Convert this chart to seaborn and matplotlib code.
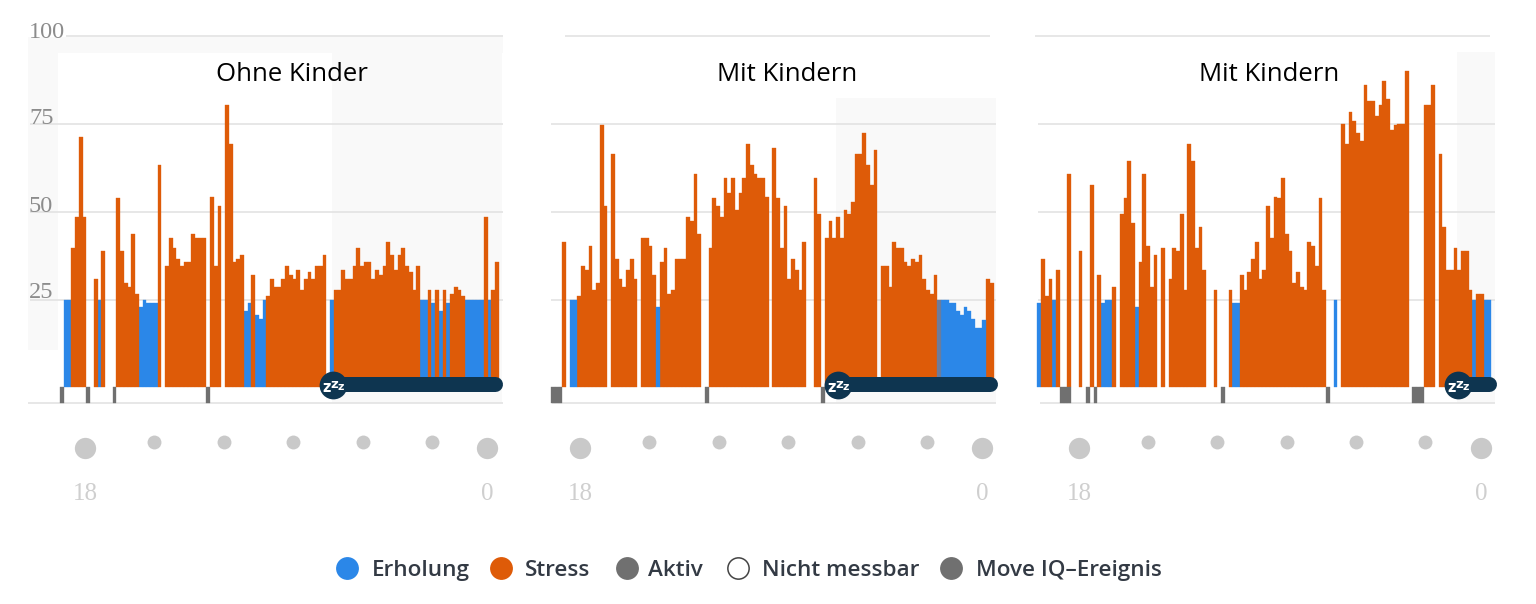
import matplotlib
matplotlib.use("Agg")
import matplotlib.pyplot as plt
from matplotlib.patches import Rectangle
import pandas as pd
import seaborn as sns

# ---------- data ----------
titles = ["Ohne Kinder", "Mit Kindern", "Mit Kindern"]
y_ticks = [100, 75, 50, 25]
legend_labels = ["Erholung", "Stress", "Aktiv", "Nicht messbar", "Move IQ\u2013Ereignis"]

values_1 = [25, 25, 39.8, 48.4, 71.3, 48.4, 0, 0, 30.8, 25, 38.8, 0, 0, 0, 53.8, 38.8, 29.7, 28.7, 43.6, 26.6,
            23, 25, 24, 24, 24, 63.3, 0, 34.5, 42.5, 39.8, 36.6, 34.5, 35.6, 35.6, 43.6, 42.5, 42.5, 42.5, 0, 54.3,
            34.5, 51.6, 0, 80.4, 69.3, 35.6, 36.6, 37.8, 21.8, 23.9, 31.9, 20.7, 19.6, 25, 26, 30.8, 28.7, 28.7, 30.8, 34.5,
            31.9, 30.8, 33.5, 27.7, 30.8, 32.9, 30.8, 34.5, 34.5, 37.8, 0, 25, 27.7, 27.7, 33.5, 30.8, 30.8, 34.5, 39.8, 34.5,
            35.6, 35.6, 30.8, 33.5, 31.9, 34.5, 41.5, 37.8, 33.5, 37.8, 39.8, 34.5, 32.9, 27.7, 34.5, 25, 25, 27.7, 23.9, 27.7,
            21.8, 27.7, 23.9, 26.6, 28.7, 27.7, 26, 25, 25, 25, 25, 25, 48.4, 25, 27.7, 35.6]
kinds_1 = ("RRSSSS--SRS---SSSSSS" "RRRRRS-SSSSSSSSSSS-S" "SS-SSSSSRRSRRRSSSSSS"
           "SSSSSSSSSS-RSSSSSSSS" "SSSSSSSSSSSSSSSRRSRS" "RSRSSSSRRRRRSRSS")
active_1 = [-1, 6, 13, 38]

values_2 = [41.5, 0, 25, 25, 26, 34.5, 33.5, 40.3, 27.7, 29.7, 74.6, 51.6, 0, 66.6, 36.6, 30.8, 28.7, 33.5, 36.6, 30.8,
            0, 42.5, 42.5, 40.3, 31.9, 23, 35.6, 39.8, 26.6, 27.7, 36.6, 36.6, 36.6, 48.4, 47.3, 60.7, 43.6, 0, 0, 39.8,
            53.8, 51.6, 48.4, 59.6, 55.4, 59.6, 50.5, 55.4, 59.6, 69.3, 63.4, 60.7, 59.6, 59.6, 54.3, 0, 68.1, 53.8, 39.8, 51.6,
            30.8, 36.6, 33.5, 27.7, 41.5, 0, 0, 59.6, 49.4, 0, 42.5, 47.3, 42.5, 48.4, 42.5, 50.5, 49.4, 52.7, 66.6, 66.6,
            72.4, 63.4, 57.5, 67.6, 0, 34.5, 34.5, 28.7, 41.5, 39.8, 39.8, 35.6, 34.5, 36.6, 35.6, 37.8, 30.8, 27.7, 26.6, 31.9,
            25, 25, 25, 23.9, 23.9, 21.8, 20.7, 23, 21.8, 19.6, 17, 17, 19.2, 30.8, 29.7]
kinds_2 = ("S-RRSSSSSSSS-SSSSSSS" "-SSSSRSSSSSSSSSSS--S" "SSSSSSSSSSSSSSS-SSSS"
           "SSSSS--SS-SSSSSSSSSS" "SSSS-SSSSSSSSSSSSSSS" "MRRRRRRRRRRRRSS")
active_2 = [-3, -2, -1, 38, 69]

values_3 = [23.9, 36.6, 26, 30.8, 25, 33.5, 0, 0, 60.7, 0, 0, 38.8, 0, 0, 57.5, 0, 31.9, 23.9, 25, 25,
            28.7, 0, 49.4, 53.8, 64.4, 46.8, 23, 35.6, 60.7, 40.3, 28.7, 37.8, 0, 39.8, 0, 30.8, 39.8, 38.8, 49.4, 27.7,
            69.3, 64.4, 39.8, 45.7, 33.5, 0, 0, 27.7, 0, 0, 0, 27.7, 23.9, 23.9, 31.9, 27.7, 32.9, 36.6, 41.5, 30.8,
            33.5, 51.6, 42.5, 54.3, 53.8, 59.6, 43.6, 38.8, 29.7, 32.9, 28.7, 27.7, 41.5, 40.3, 34.5, 53.8, 27.7, 0, 0, 25,
            0, 75, 69.3, 78.3, 76, 72.4, 70.2, 86.2, 81.5, 81.5, 77.2, 80.4, 87.4, 82, 73.4, 74.6, 75, 75, 90, 0,
            0, 0, 0, 80.4, 80.4, 86.2, 0, 66.6, 45.7, 33.5, 33.5, 39.8, 33.5, 38.8, 38.8, 27.7, 25, 26.6, 26.6, 25, 25]
kinds_3 = ("RSSSRS--S--S--S-SRRR" "S-SSSSRSSSSS-S-SSSSS" "SSSSS--S---SRRSSSSSS"
           "SSSSSSSSSSSSSSSSS--R" "-SSSSSSSSSSSSSSSSSS-" "---SSS-SSSSSSSSSRSSRR")
active_3 = [6, 7, 8, 13, 15, 49, 77, 100, 101, 102]

# ---------- style ----------
W, H = 1536, 604
BLUE, ORANGE, GREY, MIX = "#2b87e8", "#de5b08", "#707070", "#6b7c9c"
NAVY, DOT, GRID, SHADE = "#0e3550", "#c9c9c9", "#e3e3e3", "#f9f9f9"
palette = {"R": BLUE, "S": ORANGE, "A": GREY, "M": MIX}

sns.set_theme(style="white")
SERIF = "Liberation Serif"
fig = plt.figure(figsize=(W / 100, H / 100), dpi=100, facecolor="white")


def px_axes(zorder):
    ax = fig.add_axes([0, 0, 1, 1], zorder=zorder, facecolor="none")
    ax.set_axis_off()
    return ax


back = px_axes(0)
over = px_axes(5)

BASE_PX, UNIT_PX, STEP_PX = 387.3, 3.51, 3.75


def val_px(v):
    return BASE_PX - v * UNIT_PX


panels = [
    dict(vals=values_1, kinds=kinds_1, act=active_1, origin=63.83, l=20, r=510,
         grid=(30, 503), top=(66, 503), bottom=(28, 503), title_x=292,
         dots=[154, 224, 293, 363, 432], big=[85, 487], sleep=(333, 495),
         shade=[(28, 37, 503, 53), (28, 53, 58, 350), (332, 53, 502, 403)]),
    dict(vals=values_2, kinds=kinds_2, act=active_2, origin=562.33, l=540, r=1005,
         grid=(551, 996), top=(565, 990), bottom=(552, 996), title_x=787,
         dots=[649, 719, 788, 858, 927], big=[580, 982], sleep=(838, 990),
         shade=[(836, 98, 996, 403)]),
    dict(vals=values_3, kinds=kinds_3, act=active_3, origin=1037.33, l=1025, r=1505,
         grid=(1038, 1495), top=(1035, 1490), bottom=(1040, 1495), title_x=1269,
         dots=[1148, 1217, 1287, 1356, 1425], big=[1079, 1481], sleep=(1458, 1489),
         shade=[(1457, 52, 1495, 403)]),
]

for z, p in enumerate(panels):
    assert len(p["vals"]) == len(p["kinds"])
    for x0, y0, x1, y1 in p["shade"]:
        back.add_patch(Rectangle((x0, y0), x1 - x0, y1 - y0, fc=SHADE, ec="none"))
    back.plot(p["top"], [val_px(100)] * 2, color=GRID, lw=1.2, solid_capstyle="butt")
    for t in y_ticks[1:]:
        back.plot(p["grid"], [val_px(t)] * 2, color=GRID, lw=1.2, solid_capstyle="butt")
    back.plot(p["bottom"], [403, 403], color=GRID, lw=1.2, solid_capstyle="butt")

    rows = [(i, v, k) for i, (v, k) in enumerate(zip(p["vals"], p["kinds"])) if k != "-"]
    rows += [(i, -4.4, "A") for i in p["act"]]
    df = pd.DataFrame(rows, columns=["x", "v", "kind"])

    ax = fig.add_axes([p["l"] / W, 0, (p["r"] - p["l"]) / W, 1], zorder=1 + z, facecolor="none")
    sns.barplot(data=df, x="x", y="v", hue="kind", palette=palette, dodge=False,
                native_scale=True, width=1, saturation=1, errorbar=None, legend=False,
                linewidth=0, ax=ax)
    for b in ax.patches:
        b.set_edgecolor(b.get_facecolor())
        b.set_linewidth(0.25)
    ax.set_xlim((p["l"] - p["origin"]) / STEP_PX - 0.5, (p["r"] - p["origin"]) / STEP_PX - 0.5)
    ax.set_ylim((BASE_PX - H) / UNIT_PX, BASE_PX / UNIT_PX)
    ax.set_axis_off()

    # sleep pill
    sx0, sx1 = p["sleep"]
    over.plot([sx0, sx1], [383.7, 383.7], color=NAVY, lw=10.8, solid_capstyle="round")
    sns.scatterplot(x=[sx0], y=[385], s=400, color=NAVY, linewidth=0, legend=False, ax=over)
    for dx, dy, fs in [(-6, 2.5, 10.5), (1, 0, 9.5), (7.5, 2, 8)]:
        over.text(sx0 + dx, 385 + dy, "z", color="white", fontsize=fs, fontweight="bold",
                  ha="center", va="center", family="DejaVu Sans")

    # hour dots and labels
    sns.scatterplot(x=p["dots"], y=[442] * 5, s=100, color=DOT, linewidth=0, legend=False, ax=over)
    sns.scatterplot(x=p["big"], y=[448] * 2, s=235, color=DOT, linewidth=0, legend=False, ax=over)
    for x, s in zip(p["big"], ["18", "0"]):
        over.text(x, 494, s, color="#cfcfcf", fontsize=18, family=SERIF, ha="center", va="center")

    over.text(p["title_x"], 74.5, titles[z], color="black", fontsize=18.5, family="Open Sans",
              ha="center", va="center")

for t in y_ticks:
    px = {100: 32, 75: 118.5, 50: 206.5, 25: 292.5}[t]
    over.text(29, px, str(t), color="#8c8c8c", fontsize=17.5, family=SERIF, ha="left", va="center")

# legend
leg_x = [347, 501, 627, 738, 951]
leg_tx = [372, 525, 648, 762, 976]
leg_fc = [BLUE, ORANGE, GREY, "white", GREY]
leg_ec = [BLUE, ORANGE, GREY, "#444444", GREY]
for x, tx, fc, ec, lab in zip(leg_x, leg_tx, leg_fc, leg_ec, legend_labels):
    sns.scatterplot(x=[x], y=[568], s=235, color=fc, edgecolor=ec, linewidth=1.1, legend=False, ax=over)
    over.text(tx, 570.5, lab, color="#333a44", fontsize=16.2, family="Open Sans", fontweight="semibold",
              ha="left", va="center")

for a in (back, over):
    a.set_xlim(0, W)
    a.set_ylim(H, 0)
    a.set_axis_off()

fig.savefig("out.png", dpi=100)
